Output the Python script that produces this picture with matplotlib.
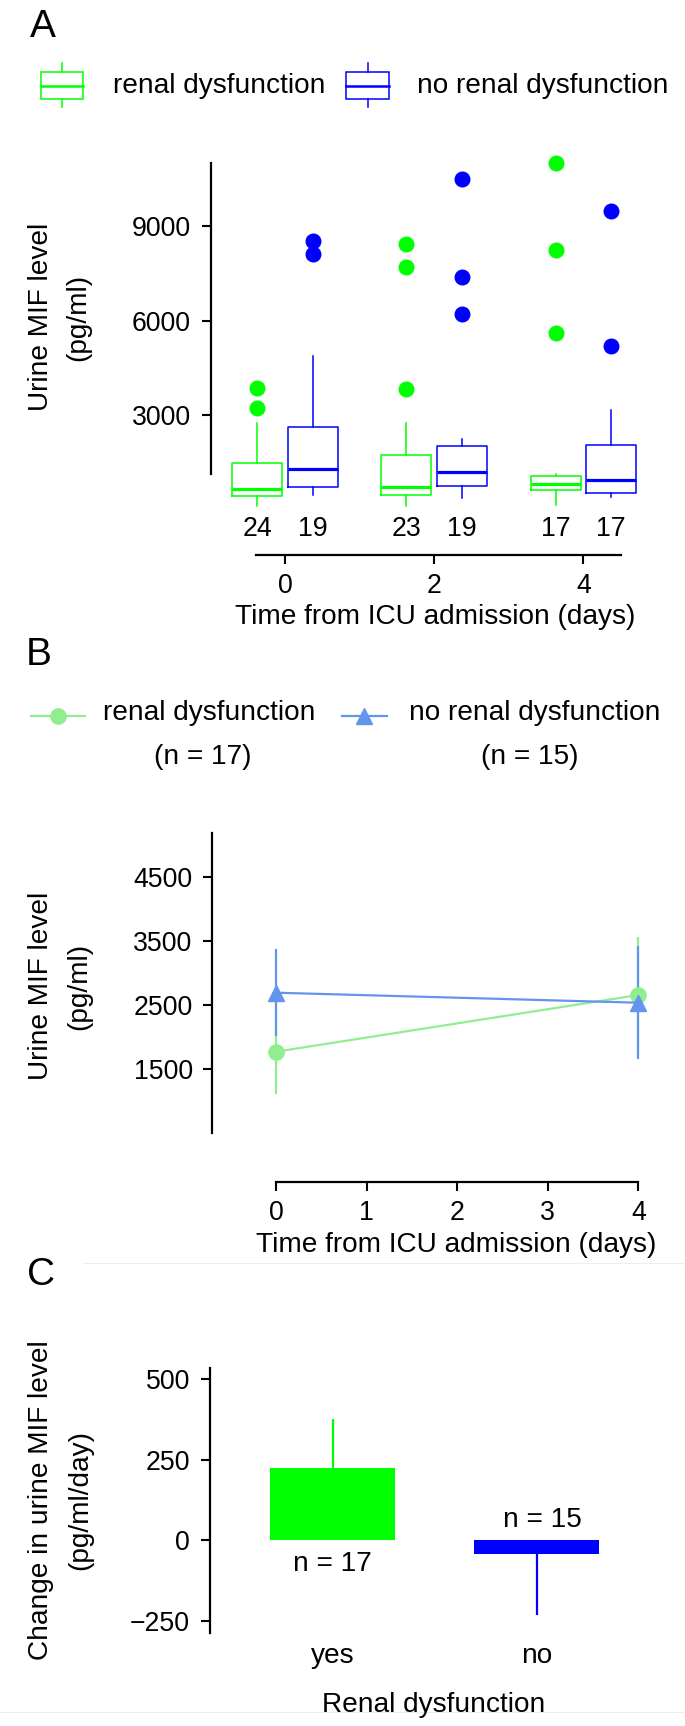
import matplotlib
matplotlib.use('Agg')
import matplotlib.pyplot as plt
from matplotlib.patches import Rectangle
from matplotlib.lines import Line2D

plt.rcParams['font.family'] = ['Liberation Sans', 'DejaVu Sans']

W, H = 685, 1726

# ---------------- Panel A data (box plots) ----------------
daysA = [0, 2, 4]
countsA_renal = [24, 23, 17]
countsA_norenal = [19, 19, 17]
renal_q1 = [438, 470, 610]
renal_med = [641, 724, 810]
renal_q3 = [1467, 1730, 1073]
renal_wlo = [121, 121, 143]
renal_whi = [2736, 2736, 1127]
renal_fliers = [[3232, 3848], [3816, 7698, 8438], [5594, 8229, 11010]]
norenal_q1 = [724, 756, 514]
norenal_med = [1276, 1181, 927]
norenal_q3 = [2629, 2026, 2048]
norenal_wlo = [460, 375, 406]
norenal_whi = [4873, 2238, 3159]
norenal_fliers = [[8111, 8524], [6197, 7371, 10483], [5200, 9476]]
yticksA = [3000, 6000, 9000]

# ---------------- Panel B data (mean +/- error) ----------------
daysB = [0, 4]
renal_mean = [1774, 2657]
renal_err = [659, 909]
norenal_mean = [2693, 2537]
norenal_err = [676, 884]
yticksB = [1500, 2500, 3500, 4500]
xticksB = [0, 1, 2, 3, 4]

# ---------------- Panel C data (bars) ----------------
groupsC = ['yes', 'no']
change_mean = [225, -43]
change_err = [152, 189]
nC = [17, 15]
yticksC = [-250, 0, 250, 500]

GREEN = '#00ff00'
BLUE = '#0000ff'
LGREEN = '#90ee90'
LBLUE = '#6495ed'
TICK_FS = 19.2
TXT_FS = 20.2
LETTER_FS = 28

fig = plt.figure(figsize=(W / 100, H / 100), dpi=100)


def px_axes(l, t, r, b):
    return fig.add_axes([l / W, 1 - b / H, (r - l) / W, (b - t) / H])


def style_axes(ax):
    for s in ['top', 'right']:
        ax.spines[s].set_visible(False)
    for s in ['left', 'bottom']:
        ax.spines[s].set_linewidth(1.6)
    ax.tick_params(width=1.5, length=6.5, labelsize=TICK_FS, colors='black')
    ax.patch.set_alpha(0)


# overlay in pixel coordinates for labels / legends
ov = fig.add_axes([0, 0, 1, 1])
ov.set_xlim(0, W)
ov.set_ylim(H, 0)
ov.axis('off')

# ======================= Panel A =======================
axA = px_axes(211, 150, 650, 555)
axA.set_xlim(-0.992, 4.893)
axA.set_ylim(-1444, 11413)


def make_stats(q1, med, q3, wlo, whi, fl):
    return [dict(q1=a, med=b, q3=c, whislo=d, whishi=e, fliers=f)
            for a, b, c, d, e, f in zip(q1, med, q3, wlo, whi, fl)]


offset = 0.373
for stats, col, sgn in [
    (make_stats(renal_q1, renal_med, renal_q3, renal_wlo, renal_whi, renal_fliers), GREEN, -1),
    (make_stats(norenal_q1, norenal_med, norenal_q3, norenal_wlo, norenal_whi, norenal_fliers), BLUE, 1),
]:
    axA.bxp(stats, positions=[d + sgn * offset for d in daysA], widths=0.67,
            showcaps=False, manage_ticks=False,
            boxprops=dict(color=col, lw=1.1),
            whiskerprops=dict(color=col, lw=1.1),
            medianprops=dict(color=col, lw=2.3),
            flierprops=dict(marker='o', markerfacecolor=col, markeredgecolor=col,
                            markersize=10.5, linestyle='none'))

style_axes(axA)
axA.spines['left'].set_bounds(1127, 11010)
axA.spines['bottom'].set_bounds(-0.39, 4.5)
axA.set_yticks(yticksA)
axA.set_xticks(daysA)
axA.tick_params(axis='y', pad=8)
axA.tick_params(axis='x', pad=6.8)
for d, cr, cn in zip(daysA, countsA_renal, countsA_norenal):
    axA.text(d - offset, -619, str(cr), ha='center', va='center', fontsize=TICK_FS)
    axA.text(d + offset, -619, str(cn), ha='center', va='center', fontsize=TICK_FS)

# ======================= Panel B =======================
axB = px_axes(211.7, 820, 660, 1182.3)
axB.set_xlim(-0.7095, 4.238)
axB.set_ylim(-260, 5383)
axB.errorbar(daysB, renal_mean, yerr=renal_err, color=LGREEN, marker='o', ms=11,
             lw=1.6, elinewidth=1.6, capsize=0)
axB.errorbar(daysB, norenal_mean, yerr=norenal_err, color=LBLUE, marker='^', ms=12,
             lw=1.6, elinewidth=1.6, capsize=0)
style_axes(axB)
axB.spines['left'].set_bounds(503, 5185)
axB.spines['bottom'].set_bounds(0, 4)
axB.set_yticks(yticksB)
axB.set_xticks(xticksB)
axB.tick_params(axis='y', pad=7.2)
axB.tick_params(axis='x', pad=5.9)

# ======================= Panel C =======================
axC = px_axes(210, 1340, 660, 1640)
axC.set_xlim(-0.6, 1.604)
axC.set_ylim(-309, 621)
xc = list(range(len(groupsC)))
axC.bar(xc, change_mean, width=0.612, color=[GREEN, BLUE], zorder=2)
axC.errorbar([xc[0]], [change_mean[0]], yerr=[[0], [change_err[0]]], color=GREEN,
             lw=1.6, capsize=0, fmt='none', zorder=3)
axC.errorbar([xc[1]], [change_mean[1]], yerr=[[change_err[1]], [0]], color=BLUE,
             lw=1.6, capsize=0, fmt='none', zorder=3)
style_axes(axC)
axC.spines['bottom'].set_visible(False)
axC.spines['left'].set_bounds(-288, 535)
axC.set_yticks(yticksC)
axC.set_xticks(xc, groupsC)
axC.tick_params(axis='y', pad=8)
axC.tick_params(axis='x', length=0, pad=2, labelsize=TXT_FS)
axC.text(xc[0], -74, f'n = {nC[0]}', ha='center', va='center', fontsize=TXT_FS)
axC.text(xc[1] + 0.03, 63, f'n = {nC[1]}', ha='center', va='center', fontsize=TXT_FS)

# ======================= Overlay texts & legends =======================
ov.text(42.8, 37, 'A', ha='center', va='baseline', fontsize=LETTER_FS)
ov.text(38.5, 665, 'B', ha='center', va='baseline', fontsize=LETTER_FS)
ov.text(41, 1285, 'C', ha='center', va='baseline', fontsize=LETTER_FS)

# y labels
for yc, l1, l2, x2 in [(317, 'Urine MIF level', '(pg/ml)', 78.6),
                       (986, 'Urine MIF level', '(pg/ml)', 79.5),
                       (1500, 'Change in urine MIF level', '(pg/ml/day)', 80)]:
    ov.text(41.5, yc, l1, rotation=90, ha='center', va='center', fontsize=TXT_FS)
    ov.text(x2, yc, l2, rotation=90, ha='center', va='center', fontsize=TXT_FS)

# x labels
ov.text(434.7, 616.7, 'Time from ICU admission (days)', ha='center', va='center', fontsize=TXT_FS)
ov.text(456.5, 1245, 'Time from ICU admission (days)', ha='center', va='center', fontsize=TXT_FS)
ov.text(434, 1705, 'Renal dysfunction', ha='center', va='center', fontsize=TXT_FS)

# legend A (box symbols)
for x0, x1, col, label, tx in [(40.6, 83, GREEN, 'renal dysfunction', 112.7),
                               (346.4, 388.8, BLUE, 'no renal dysfunction', 417)]:
    ov.add_patch(Rectangle((x0, 71.7), x1 - x0, 27.6, fill=False, edgecolor=col, lw=1.1))
    xm = (x0 + x1) / 2
    ov.add_line(Line2D([x0, x1], [86, 86], color=col, lw=1.8))
    ov.add_line(Line2D([xm, xm], [63, 71.7], color=col, lw=1.1))
    ov.add_line(Line2D([xm, xm], [99.3, 107], color=col, lw=1.1))
    ov.text(tx, 86, label, ha='left', va='center', fontsize=TXT_FS)

# legend B (line + marker)
for x0, x1, col, mk, ms, label, tx, nlab, nx in [
        (31.5, 85.2, LGREEN, 'o', 11, 'renal dysfunction', 103.5, '(n = 17)', 203),
        (342, 386.6, LBLUE, '^', 12, 'no renal dysfunction', 409, '(n = 15)', 529.7)]:
    ov.add_line(Line2D([x0, x1], [716, 716], color=col, lw=1.6))
    ov.add_line(Line2D([(x0 + x1) / 2], [716], color=col, marker=mk, ms=ms, linestyle='none'))
    ov.text(tx, 713, label, ha='left', va='center', fontsize=TXT_FS)
    ov.text(nx, 757, nlab, ha='center', va='center', fontsize=TXT_FS)

# faint separator lines present in the reference
ov.add_line(Line2D([83, 685], [1262.7, 1262.7], color='#eeeeee', lw=0.8))
ov.add_line(Line2D([0, 685], [1711.7, 1711.7], color='#eeeeee', lw=0.8))

fig.savefig('out.png', dpi=100)
